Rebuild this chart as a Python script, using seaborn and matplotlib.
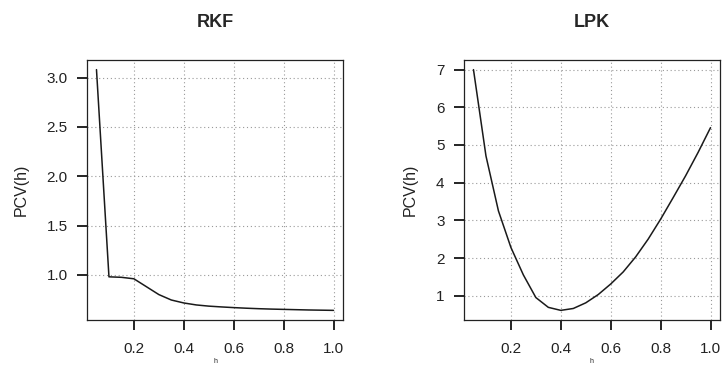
import matplotlib
matplotlib.use("Agg")
import matplotlib.pyplot as plt
import seaborn as sns
import pandas as pd

h = [0.05, 0.10, 0.15, 0.20, 0.25, 0.30, 0.35, 0.40, 0.45, 0.50,
     0.55, 0.60, 0.65, 0.70, 0.75, 0.80, 0.85, 0.90, 0.95, 1.00]
pcv_rkf = [3.08, 0.98, 0.975, 0.96, 0.88, 0.80, 0.745, 0.715, 0.695, 0.683,
           0.675, 0.668, 0.662, 0.657, 0.653, 0.650, 0.647, 0.644, 0.642, 0.640]
pcv_lpk = [7.0, 4.71, 3.25, 2.28, 1.55, 0.95, 0.69, 0.61, 0.66, 0.81,
           1.03, 1.31, 1.63, 2.03, 2.50, 3.03, 3.60, 4.18, 4.80, 5.46]

titles = ["RKF", "LPK"]
xticks = [0.2, 0.4, 0.6, 0.8, 1.0]
yticks_rkf = [1.0, 1.5, 2.0, 2.5, 3.0]
yticks_lpk = [1, 2, 3, 4, 5, 6, 7]

sns.set_style("ticks")
plt.rcParams['font.family'] = ['Liberation Sans', 'DejaVu Sans']

fig = plt.figure(figsize=(7.25, 3.67), dpi=100)
W, H = 725, 367
def px_axes(l, t, r, b):
    return fig.add_axes([l / W, 1 - b / H, (r - l) / W, (b - t) / H])

axes = [px_axes(87, 60, 343, 320), px_axes(464, 60, 720, 320)]
datas = [pcv_rkf, pcv_lpk]
yts = [yticks_rkf, yticks_lpk]
ylabfmt = ["{:.1f}", "{:d}"]

for ax, y, title, yt, fmt in zip(axes, datas, titles, yts, ylabfmt):
    df = pd.DataFrame({"h": h, "PCV": y})
    sns.lineplot(data=df, x="h", y="PCV", ax=ax, color="#1a1a1a", lw=1.1)
    xr = max(h) - min(h)
    ax.set_xlim(min(h) - 0.04 * xr, max(h) + 0.04 * xr)
    yr = max(y) - min(y)
    ax.set_ylim(min(y) - 0.04 * yr, max(y) + 0.04 * yr)
    ax.set_xticks(xticks)
    ax.set_xticklabels([f"{v:.1f}" for v in xticks])
    ax.set_yticks(yt)
    ax.set_yticklabels([fmt.format(v) for v in yt])
    ax.grid(True, linestyle=(0, (1, 2.5)), color="#999999", lw=0.8)
    for s in ax.spines.values():
        s.set_visible(True)
        s.set_color("#222222")
        s.set_linewidth(0.9)
    ax.tick_params(axis="both", which="major", direction="out", length=7, width=1.2,
                   color="black", labelsize=11, labelcolor="#222222",
                   bottom=True, left=True)
    ax.tick_params(axis="x", pad=9)
    ax.tick_params(axis="y", pad=7)
    ax.set_title(title, fontsize=13, fontweight="bold", pad=24)
    ax.set_ylabel("PCV(h)", fontsize=11.5, labelpad=13, color="#222222")
    ax.set_xlabel("h", fontsize=5, labelpad=1, color="#222222")

fig.savefig("out.png", dpi=100)
